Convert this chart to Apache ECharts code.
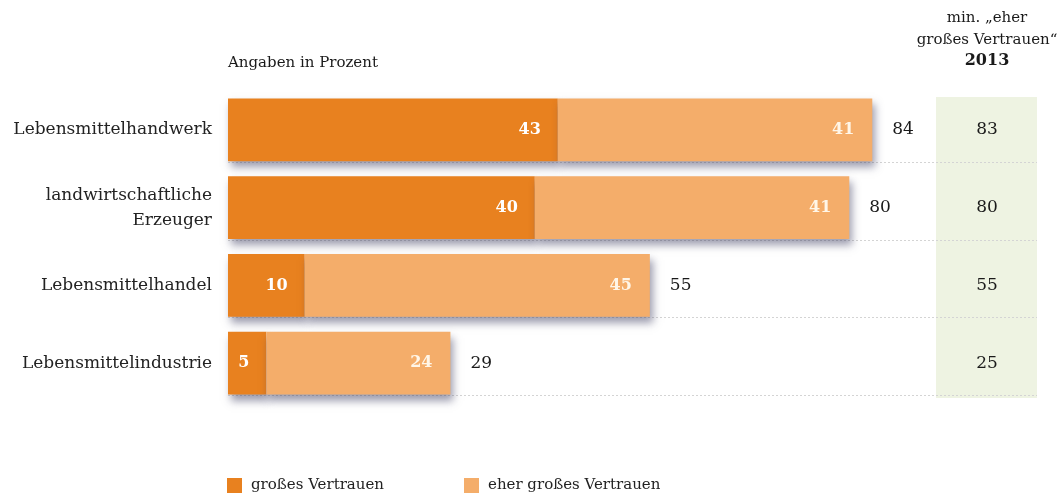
<!DOCTYPE html>
<html><head><meta charset="utf-8">
<script src="https://cdn.jsdelivr.net/npm/echarts@6/dist/echarts.min.js"></script>
<style>html,body{margin:0;padding:0;background:#fff}#c{width:1059px;height:498px}</style>
</head><body><div id="c"></div>
<script>
const categories = ['Lebensmittelhandwerk', 'landwirtschaftliche\nErzeuger', 'Lebensmittelhandel', 'Lebensmittelindustrie'];
const grossesVertrauen = [43, 40, 10, 5];
const eherGrossesVertrauen = [41, 41, 45, 24];
const totals = [84, 80, 55, 29];
const min2013 = [83, 80, 55, 25];
const seriesNames = ['großes Vertrauen', 'eher großes Vertrauen'];

const FONT = 'DejaVu Serif';
const chart = echarts.init(document.getElementById('c'), null, {renderer: 'canvas'});
const shadow = {shadowColor: 'rgba(60,60,95,0.5)', shadowBlur: 8, shadowOffsetX: 3, shadowOffsetY: 6};

const option = {
  animation: false,
  textStyle: {fontFamily: FONT},
  grid: [
    {left: 228, top: 91, height: 311, right: 64},
    {left: 937, top: 91, height: 311, width: 100}
  ],
  xAxis: [
    {gridIndex: 0, type: 'value', min: 0, max: 100, show: false},
    {gridIndex: 1, type: 'value', min: 0, max: 100, show: false}
  ],
  yAxis: [
    {gridIndex: 0, type: 'category', data: categories, inverse: true,
     axisLine: {show: false}, axisTick: {show: false},
     axisLabel: {margin: 16, fontFamily: FONT, fontSize: 17, color: '#222', lineHeight: 25, align: 'right'}},
    {gridIndex: 1, type: 'category', data: categories, inverse: true, show: false}
  ],
  legend: {
    left: 222, top: 473, itemWidth: 15, itemHeight: 15, itemGap: 80, icon: 'rect',
    data: seriesNames,
    textStyle: {fontFamily: FONT, fontSize: 15, color: '#222', padding: [0, 0, 0, 4]}
  },
  series: [
    {name: seriesNames[0], type: 'bar', stack: 'a', data: grossesVertrauen, barCategoryGap: '19%',
     itemStyle: Object.assign({color: '#e8811f'}, shadow),
     label: {show: true, position: 'insideRight', distance: 17, color: '#fff', fontWeight: 'bold', fontSize: 16, fontFamily: FONT}},
    {name: seriesNames[1], type: 'bar', stack: 'a', data: eherGrossesVertrauen,
     itemStyle: Object.assign({color: '#f4ad6a'}, shadow),
     label: {show: true, position: 'insideRight', distance: 18, color: '#fff6e8', fontWeight: 'bold', fontSize: 16, fontFamily: FONT}},
    {name: 'Summe', type: 'bar', stack: 'a', data: totals.map(() => 0), silent: true,
     itemStyle: {color: 'rgba(0,0,0,0)'},
     label: {show: true, position: 'right', distance: 20, color: '#1a1a1a', fontSize: 17, fontFamily: FONT,
             formatter: p => String(totals[p.dataIndex])}},
    {name: '2013', type: 'scatter', xAxisIndex: 1, yAxisIndex: 1, symbolSize: 0, silent: true,
     itemStyle: {opacity: 1, color: '#1a1a1a'},
     data: min2013.map((v, i) => [50, i]),
     label: {show: true, position: 'inside', color: '#1a1a1a', fontSize: 17, fontFamily: FONT,
             formatter: p => String(min2013[p.dataIndex])}}
  ]
};
chart.setOption(option);

const g = [];
g.push({type: 'rect', shape: {x: 936, y: 97, width: 101, height: 301}, style: {fill: '#eef3e2'}, z: 0});
categories.forEach((c, i) => {
  const y = Math.round(chart.convertToPixel({yAxisIndex: 0}, i) + 32) + 0.5;
  g.push({type: 'line', shape: {x1: 228, y1: y, x2: 1037, y2: y}, style: {stroke: '#d4d4d4', lineWidth: 1, lineDash: [2, 2]}, z: 1});
});
g.push({type: 'text', left: 228, top: 56, style: {text: 'Angaben in Prozent', font: '15px "DejaVu Serif"', fill: '#1a1a1a'}});
g.push({type: 'text', x: 987, y: 7, style: {text: 'min. „eher\ngroßes Vertrauen“', font: '15px "DejaVu Serif"', fill: '#1a1a1a', align: 'center', lineHeight: 22}});
g.push({type: 'text', x: 987, y: 53, style: {text: '2013', font: 'bold 16px "DejaVu Serif"', fill: '#1a1a1a', align: 'center'}});
chart.setOption({graphic: g});
</script></body></html>
